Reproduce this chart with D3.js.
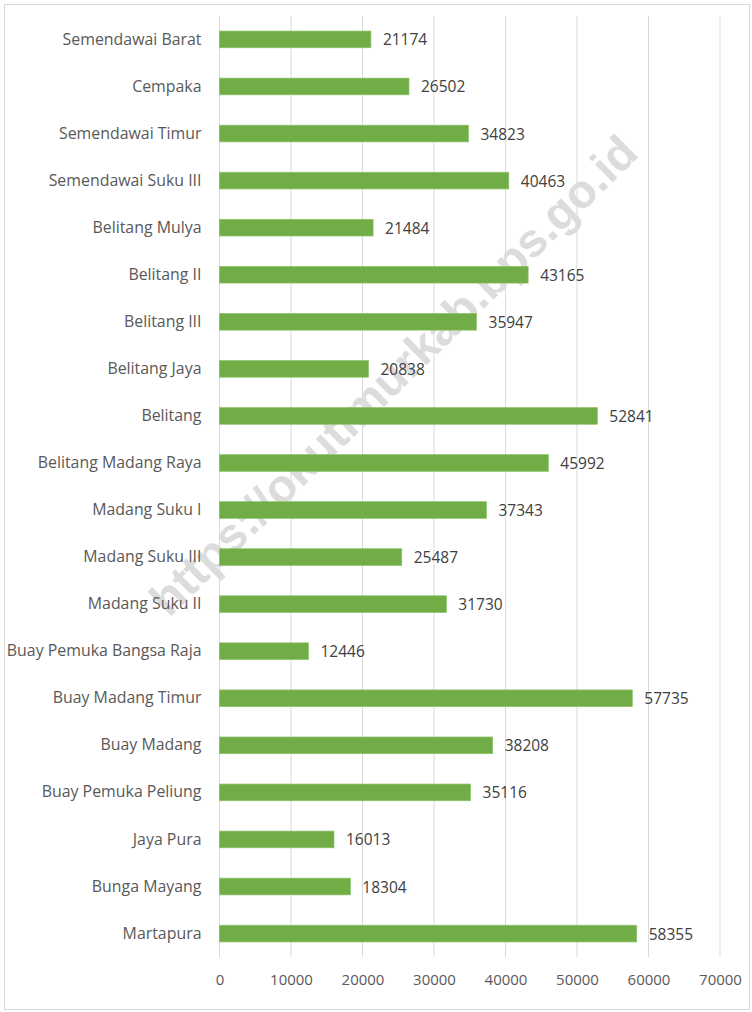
<!DOCTYPE html>
<html>
<head>
<meta charset="utf-8">
<script src="https://cdn.jsdelivr.net/npm/d3@7"></script>
<style>
  body { margin: 0; background: #fff; }
  text { font-family: "Open Sans", sans-serif; fill: #595959; }
</style>
</head>
<body>
<svg id="chart" width="752" height="1012"></svg>
<script>
// categories top to bottom, as in the picture
const categories = [
  "Semendawai Barat", "Cempaka", "Semendawai Timur", "Semendawai Suku III",
  "Belitang Mulya", "Belitang II", "Belitang III", "Belitang Jaya", "Belitang",
  "Belitang Madang Raya", "Madang Suku I", "Madang Suku III", "Madang Suku II",
  "Buay Pemuka Bangsa Raja", "Buay Madang Timur", "Buay Madang",
  "Buay Pemuka Peliung", "Jaya Pura", "Bunga Mayang", "Martapura"
]
const values = [
  21174, 26502, 34823, 40463, 21484, 43165, 35947, 20838, 52841,
  45992, 37343, 25487, 31730, 12446, 57735, 38208, 35116, 16013, 18304, 58355
]
const xTicks = [0, 10000, 20000, 30000, 40000, 50000, 60000, 70000]

const svg = d3.select('#chart')

// outer border
svg.append('rect')
  .attr('x', 4.5).attr('y', 4.5)
  .attr('width', 745).attr('height', 1005)
  .attr('fill', 'none').attr('stroke', '#d9d9d9')

const x = d3.scaleLinear().domain([0, 70000]).range([219.5, 720])
const y = d3.scaleBand().domain(categories).range([16, 957]).paddingInner(0.645).paddingOuter(0.32)

// gridlines
svg.append('g').selectAll('line')
  .data(xTicks)
  .enter().append('line')
  .attr('x1', (d) => x(d)).attr('x2', (d) => x(d))
  .attr('y1', 16).attr('y2', 957)
  .attr('stroke', '#d9d9d9').attr('stroke-width', 1)

// watermark (sits behind the bars)
svg.append('text')
  .attr('transform', 'translate(393,375) rotate(-44.5)')
  .attr('text-anchor', 'middle')
  .attr('dominant-baseline', 'central')
  .style('font-family', '"Liberation Sans", Arial, sans-serif')
  .style('font-weight', 'bold')
  .style('font-size', '47px')
  .style('fill', '#dcdcdc')
  .text('https://okutimurkab.bps.go.id')

// bars
svg.append('g').selectAll('rect')
  .data(categories)
  .enter().append('rect')
  .attr('x', x(0))
  .attr('y', (d) => y(d))
  .attr('width', (d, i) => x(values[i]) - x(0))
  .attr('height', y.bandwidth())
  .attr('fill', '#70ad47')
  .attr('stroke', '#8dc26a').attr('stroke-width', 0.7)

// value labels
svg.append('g').selectAll('text')
  .data(categories)
  .enter().append('text')
  .attr('x', (d, i) => x(values[i]) + 12)
  .attr('y', (d) => y(d) + y.bandwidth() / 2)
  .attr('dominant-baseline', 'central')
  .style('font-size', '15.5px')
  .style('fill', '#404040')
  .text((d, i) => values[i])

// category labels
const yAxis = svg.append('g')
  .attr('transform', `translate(${x(0)},0)`)
  .call(d3.axisLeft(y).tickSize(0).tickPadding(18))
yAxis.select('.domain').remove()
yAxis.selectAll('text')
  .style('font-size', '15.9px')
  .style('font-family', '"Open Sans", sans-serif')
  .attr('fill', '#595959')

// x axis labels
const xAxis = svg.append('g')
  .attr('transform', 'translate(0,957)')
  .call(d3.axisBottom(x).tickValues(xTicks).tickSize(0).tickPadding(17).tickFormat(d3.format('d')))
xAxis.select('.domain').remove()
xAxis.selectAll('text')
  .style('font-size', '15px')
  .style('font-family', '"Open Sans", sans-serif')
  .attr('fill', '#595959')
</script>
</body>
</html>
